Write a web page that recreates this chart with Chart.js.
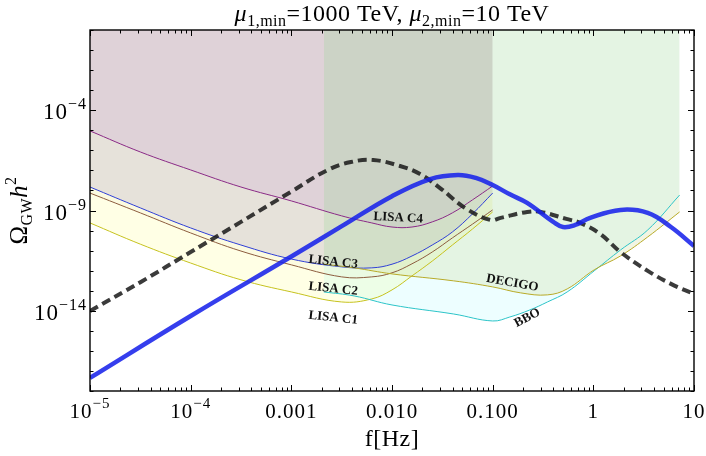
<!DOCTYPE html>
<html>
<head>
<meta charset="utf-8">
<script src="https://cdn.jsdelivr.net/npm/chart.js@4.4.1/dist/chart.umd.min.js"></script>
<style>
  body { margin: 0; background: #fff; }
  canvas { display: block; }
</style>
</head>
<body>
<canvas id="gwChart" width="706" height="456"></canvas>
<script>
// sensitivity curves (f in Hz, Omega_GW h^2)
const lisaFreq = [1e-5, 3.16e-5, 1e-4, 3.16e-4, 1e-3, 3.16e-3, 6.3e-3, 1e-2, 1.58e-2, 2.51e-2, 3.98e-2, 6.31e-2, 0.1];
const lisaC4 = [9.3e-6, 8.3e-7, 1.05e-7, 1.48e-8, 3.0e-9, 5.4e-10, 2.4e-10, 1.5e-10, 1.5e-10, 2.7e-10, 7.6e-10, 3.4e-9, 1.66e-8];
const lisaC3 = [1.48e-8, 1.35e-9, 1.35e-10, 1.9e-11, 3.8e-12, 1.55e-12, 1.38e-12, 2.1e-12, 5.4e-12, 1.9e-11, 8.5e-11, 6.8e-10, 7.4e-9];
const lisaC2 = [7.4e-9, 7.6e-10, 7.6e-11, 9.5e-12, 1.95e-12, 4.9e-13, 4.9e-13, 7.8e-13, 2.2e-12, 8.5e-12, 4.3e-11, 2.1e-10, 1.07e-9];
const lisaC1 = [2.4e-10, 2.1e-11, 2.4e-12, 3.5e-13, 8.7e-14, 2.75e-14, 3.9e-14, 1.1e-13, 5.5e-13, 3.0e-12, 1.9e-11, 1.2e-10, 8.5e-10];

const decigoFreq = [2.1e-3, 4.2e-3, 0.01, 0.041, 0.1, 0.19, 0.35, 0.55, 1.02, 1.86, 3.47, 7.2];
const decigo = [2.1e-12, 1.38e-12, 6.9e-13, 3.1e-13, 1.55e-13, 7.8e-14, 6.2e-14, 1.23e-13, 1.1e-12, 5.4e-12, 4.8e-11, 8.5e-10];

const bboFreq = [2.1e-3, 4.2e-3, 0.01, 0.041, 0.1, 0.148, 0.234, 0.35, 0.55, 1.02, 1.86, 3.47, 7.2];
const bbo = [8.7e-14, 5.5e-14, 1.95e-14, 6.9e-15, 3.1e-15, 4.9e-15, 1.1e-14, 2.75e-14, 8.7e-14, 9.8e-13, 1.07e-11, 1.07e-10, 5.9e-9];

// signal spectra
const signalFreq = [1e-5, 1e-4, 1.02e-3, 3.2e-3, 0.01, 0.024, 0.045, 0.068, 0.1, 0.15, 0.22, 0.4, 0.5, 0.66, 0.93, 1.86, 3.47, 5.9, 10];
const signal = [4.5e-18, 5.5e-15, 5.4e-12, 1.7e-10, 5.2e-9, 3.7e-8, 5.9e-8, 4.2e-8, 1.86e-8, 6.2e-9, 2.4e-9, 2.7e-10, 1.5e-10, 1.9e-10, 4.3e-10, 1.07e-9, 7.6e-10, 1.5e-10, 1.7e-11];

const dashedFreq = [1e-5, 3.2e-5, 1e-4, 3.16e-4, 1.02e-3, 2.3e-3, 3.9e-3, 6.5e-3, 0.012, 0.019, 0.030, 0.055, 0.095, 0.12, 0.22, 0.30, 0.54, 0.74, 1.17, 1.86, 3.47, 5.9, 10];
const dashed = [9.8e-15, 2.75e-13, 8.5e-12, 2.7e-10, 9.3e-9, 1.05e-7, 2.6e-7, 3.3e-7, 1.66e-7, 6.6e-8, 1.32e-8, 1.2e-9, 3.4e-10, 4.3e-10, 8.5e-10, 8.5e-10, 3.8e-10, 2.4e-10, 6.8e-11, 8.5e-12, 9.8e-13, 2.2e-13, 6.9e-14];

// tick labels
const xTickValues = [1e-5, 1e-4, 1e-3, 1e-2, 0.1, 1, 10];
const xTickBases = ["10", "10", "0.001", "0.010", "0.100", "1", "10"];
const xTickExps = ["\u22125", "\u22124", "", "", "", "", ""];
const yTickValues = [1e-4, 1e-9, 1e-14];
const yTickExps = ["\u22124", "\u22129", "\u221214"];

// curve names and where they sit (f, Omega)
const curveNames = ["LISA C4", "LISA C3", "LISA C2", "LISA C1", "DECIGO", "BBO"];
const curveNameFreq = [0.0115, 2.6e-3, 2.6e-3, 2.6e-3, 0.157, 0.221];
const curveNameOmega = [4.3e-10, 2.7e-12, 1.23e-13, 4.4e-15, 2.4e-13, 4.4e-15];
const curveNameAngle = [3, 6, 6, 6, 10, -28];

const serif = '"Liberation Serif", "Times New Roman", Times, serif';

const toPoints = (xs, ys) => xs.map((x, i) => ({ x: x, y: ys[i] }));

// draws a row of text pieces (for sub/superscripts)
function drawRich(ctx, parts, x, y, align) {
  let total = 0;
  parts.forEach((p) => {
    ctx.font = p.font;
    p.w = ctx.measureText(p.t).width;
    total += p.w;
  });
  let cx = x;
  if (align === "center") cx = x - total / 2;
  if (align === "right") cx = x - total;
  ctx.textAlign = "left";
  parts.forEach((p) => {
    ctx.font = p.font;
    ctx.fillText(p.t, cx, y + (p.dy || 0));
    cx += p.w;
  });
}

const framePlugin = {
  id: "framePlugin",
  afterDatasetsDraw(chart) {
    const ctx = chart.ctx;
    const xs = chart.scales.x;
    const ys = chart.scales.y;
    ctx.save();
    ctx.fillStyle = "#111";
    ctx.font = "bold 13px " + serif;
    ctx.textAlign = "center";
    ctx.textBaseline = "middle";
    curveNames.forEach((name, i) => {
      ctx.save();
      ctx.translate(xs.getPixelForValue(curveNameFreq[i]), ys.getPixelForValue(curveNameOmega[i]));
      ctx.rotate((curveNameAngle[i] * Math.PI) / 180);
      ctx.fillText(name, 0, 0);
      ctx.restore();
    });
    ctx.restore();
  },
  afterDraw(chart) {
    const ctx = chart.ctx;
    const area = chart.chartArea;
    const xs = chart.scales.x;
    const ys = chart.scales.y;
    ctx.save();
    ctx.strokeStyle = "#000";
    ctx.lineWidth = 1.4;
    ctx.strokeRect(area.left, area.top, area.right - area.left, area.bottom - area.top);

    // inward ticks on all four sides
    ctx.lineWidth = 1;
    ctx.beginPath();
    for (let n = -5; n <= 1; n++) {
      for (let k = 1; k <= 9; k++) {
        const v = k * Math.pow(10, n);
        if (v < 1e-5 * 0.999 || v > 10 * 1.001) continue;
        const px = Math.round(xs.getPixelForValue(v)) + 0.5;
        const len = k === 1 ? 6 : 3.5;
        ctx.moveTo(px, area.bottom);
        ctx.lineTo(px, area.bottom - len);
        ctx.moveTo(px, area.top);
        ctx.lineTo(px, area.top + len);
      }
    }
    for (let n = -18; n <= 0; n++) {
      const py = Math.round(ys.getPixelForValue(Math.pow(10, n))) + 0.5;
      const len = (n + 4) % 5 === 0 ? 6 : 3.5;
      ctx.moveTo(area.left, py);
      ctx.lineTo(area.left + len, py);
      ctx.moveTo(area.right, py);
      ctx.lineTo(area.right - len, py);
    }
    ctx.stroke();

    ctx.fillStyle = "#000";
    ctx.textBaseline = "alphabetic";
    ctx.letterSpacing = "1px";

    // x tick labels
    xTickValues.forEach((v, i) => {
      const px = xs.getPixelForValue(v);
      const parts = [{ t: xTickBases[i], font: "21px " + serif }];
      if (xTickExps[i]) parts.push({ t: xTickExps[i], font: "15px " + serif, dy: -10 });
      drawRich(ctx, parts, px, area.bottom + 27, "center");
    });

    // y tick labels
    yTickValues.forEach((v, i) => {
      const py = ys.getPixelForValue(v);
      drawRich(ctx, [
        { t: "10", font: "23px " + serif },
        { t: yTickExps[i], font: "16px " + serif, dy: -10 }
      ], area.left - 3, py + 9, "right");
    });

    ctx.letterSpacing = "0.5px";
    // title
    drawRich(ctx, [
      { t: "\u03bc", font: "italic 24px " + serif },
      { t: "1,min", font: "16px " + serif, dy: 5 },
      { t: "=1000 TeV, ", font: "24px " + serif },
      { t: "\u03bc", font: "italic 24px " + serif },
      { t: "2,min", font: "16px " + serif, dy: 5 },
      { t: "=10 TeV", font: "24px " + serif }
    ], (area.left + area.right) / 2, 21, "center");

    // x axis title
    drawRich(ctx, [{ t: "f[Hz]", font: "24px " + serif }], (area.left + area.right) / 2, 446, "center");

    // y axis title
    ctx.translate(27, (area.top + area.bottom) / 2);
    ctx.rotate(-Math.PI / 2);
    drawRich(ctx, [
      { t: "\u03a9", font: "25px " + serif },
      { t: "GW", font: "16px " + serif, dy: 5 },
      { t: "h", font: "italic 25px " + serif },
      { t: "2", font: "16px " + serif, dy: -11 }
    ], 0, 0, "center");
    ctx.restore();
  }
};

const lineBase = {
  pointRadius: 0,
  borderWidth: 1,
  tension: 0.4
};

new Chart(document.getElementById("gwChart"), {
  type: "line",
  data: {
    datasets: [
      { ...lineBase, label: "signal", data: toPoints(signalFreq, signal), borderColor: "rgba(25,35,235,0.88)", borderWidth: 4.5, fill: false, order: 0 },
      { ...lineBase, label: "dashed", data: toPoints(dashedFreq, dashed), borderColor: "rgba(25,25,25,0.85)", borderWidth: 4, borderDash: [9, 5], fill: false, order: 1 },
      { ...lineBase, label: "DECIGO", data: toPoints(decigoFreq, decigo), borderColor: "#b8aa28", backgroundColor: "rgba(197,209,128,0.22)", fill: "end", order: 2 },
      { ...lineBase, label: "BBO", data: toPoints(bboFreq, bbo), borderColor: "#2cc4c8", backgroundColor: "rgba(0,240,255,0.07)", fill: "end", order: 3 },
      { ...lineBase, label: "LISA C4", data: toPoints(lisaFreq, lisaC4), borderColor: "#8a2a86", backgroundColor: "rgba(184,128,203,0.17)", fill: "end", order: 4 },
      { ...lineBase, label: "LISA C3", data: toPoints(lisaFreq, lisaC3), borderColor: "#2f3fd6", backgroundColor: "rgba(106,86,189,0.15)", fill: "end", order: 5 },
      { ...lineBase, label: "LISA C2", data: toPoints(lisaFreq, lisaC2), borderColor: "#8c5c3e", backgroundColor: "rgba(160,120,60,0.03)", fill: "end", order: 6 },
      { ...lineBase, label: "LISA C1", data: toPoints(lisaFreq, lisaC1), borderColor: "#c6c21e", backgroundColor: "rgba(255,255,0,0.1)", fill: "end", order: 7 }
    ]
  },
  options: {
    responsive: false,
    animation: false,
    layout: { padding: { left: 90, right: 12, top: 30, bottom: 65 } },
    plugins: {
      legend: { display: false },
      tooltip: { enabled: false },
      filler: { drawTime: "beforeDatasetsDraw" }
    },
    scales: {
      x: { type: "logarithmic", min: 1e-5, max: 10, display: false },
      y: { type: "logarithmic", min: 1e-18, max: 1, display: false }
    }
  },
  plugins: [framePlugin]
});
</script>
</body>
</html>
